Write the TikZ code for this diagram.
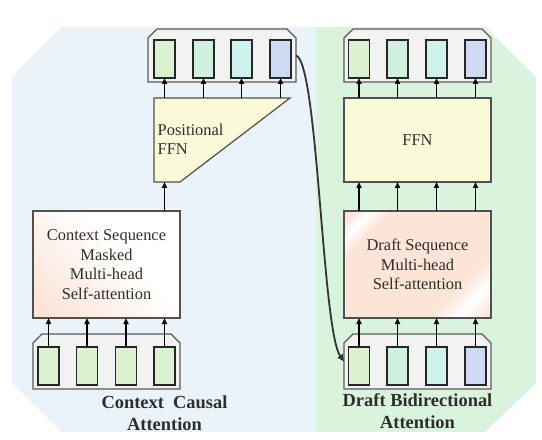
\documentclass[tikz,border=0pt]{standalone}
\usepackage{fontspec}
\setmainfont{Liberation Serif}
\usetikzlibrary{arrows.meta}
\definecolor{bgblue}{HTML}{EAF2FA}
\definecolor{bggreen}{HTML}{DAF3DC}
\definecolor{contfill}{HTML}{F2F2F2}
\definecolor{contline}{HTML}{595959}
\definecolor{boxline}{HTML}{505050}
\definecolor{tokline}{HTML}{262626}
\definecolor{tA}{HTML}{DAF2D0}
\definecolor{tB}{HTML}{D0F0E0}
\definecolor{tC}{HTML}{CFF2EE}
\definecolor{tD}{HTML}{CDDAF2}
\definecolor{ffnyel}{HTML}{FAF9D8}
\definecolor{salm}{HTML}{FCE4D6}
\definecolor{txt}{HTML}{2E2E2E}
\pgfdeclarehorizontalshading{shinegrad}{100bp}{color(0bp)=(salm); color(17bp)=(salm); color(22bp)=(white); color(28bp)=(salm); color(67bp)=(salm); color(76bp)=(white); color(84bp)=(salm); color(100bp)=(salm)}
\pgfdeclarehorizontalshading{ctxgrad}{100bp}{color(0bp)=(salm); color(20bp)=(salm); color(58bp)=(white); color(100bp)=(white)}
\tikzset{
  regtext/.style={font=\fontsize{16.5}{19.5}\selectfont, text=txt},
  captext/.style={font=\fontsize{18.5}{22}\selectfont\bfseries, text=txt, align=center},
  bigbox/.style={draw=boxline, line width=1.2bp, inner sep=0pt, outer sep=0pt,
    minimum width=147bp, regtext, align=center},
  hidden/.style={inner sep=0pt, outer sep=0pt},
  contshape/.style={draw=contline, fill=contfill, line width=1.2bp},
  tok/.style={draw=tokline, line width=1.6bp, minimum width=21bp, minimum height=38bp, inner sep=0pt, outer sep=0pt},
  arr/.style={draw=black, line width=1.6bp, -{Triangle[length=6bp,width=5bp]}},
  curvearr/.style={draw=black!80, line width=1.8bp, -{Triangle[length=7bp,width=6bp]}},
}
\newcommand\chamferbox[1]{%
  \draw[contshape] (#1.south west) -- ([yshift=-9bp]#1.north west) -- ([xshift=9bp]#1.north west)
    -- ([xshift=-9bp]#1.north east) -- ([yshift=-9bp]#1.north east) -- (#1.south east) -- cycle;}
\begin{document}
\begin{tikzpicture}[x=1bp,y=-1bp]
\useasboundingbox (0,0) rectangle (542,440);
% backgrounds
\fill[bgblue] (62,27) -- (316,27) -- (316,432) -- (62,432) -- (12,383) -- (12,77) -- cycle;
\fill[bggreen] (316,27) -- (485,27) -- (536,77) -- (536,383) -- (485,432) -- (316,432) -- cycle;

% ---------- left column ----------
\node[hidden, minimum width=148bp, minimum height=53bp] (cA) at (222,55.5) {};
\chamferbox{cA}
\node[tok, fill=tA] (a1) at (164.5,59) {};
\node[tok, fill=tB] (a2) at (203.5,59) {};
\node[tok, fill=tC] (a3) at (241.5,59) {};
\node[tok, fill=tD] (a4) at (280.5,59) {};

\node[hidden, minimum width=136bp, minimum height=84bp] (pffn) at (222,140) {};
\draw[draw=boxline, fill=ffnyel, line width=1.2bp] (pffn.north west) -- (pffn.north east)
  -- ([xshift=26bp]pffn.south west) -- (pffn.south west) -- cycle;
\node[regtext, anchor=west, align=left, inner sep=0pt] (pffntext) at (157.5,139.5) {Positional\\FFN};

\node[bigbox, minimum height=107bp, shading=ctxgrad, shading angle=45] (ctx) at (106.5,264.5)
  {Context Sequence\\Masked\\Multi-head\\Self-attention};

\node[hidden, minimum width=147bp, minimum height=55bp] (cB) at (106.5,361.5) {};
\chamferbox{cB}
\node[tok, fill=tA] (b1) at (48.5,366) {};
\node[tok, fill=tA] (b2) at (87,366) {};
\node[tok, fill=tA] (b3) at (126,366) {};
\node[tok, fill=tA] (b4) at (164.5,366) {};

\node[captext] (capL) at (164.5,413) {Context~~Causal\\Attention};

% ---------- right column ----------
\node[hidden, minimum width=147bp, minimum height=53bp] (cC) at (417.5,55.5) {};
\chamferbox{cC}
\node[tok, fill=tA] (c1) at (359,59) {};
\node[tok, fill=tB] (c2) at (397.5,59) {};
\node[tok, fill=tC] (c3) at (436.5,59) {};
\node[tok, fill=tD] (c4) at (475.5,59) {};

\node[bigbox, minimum height=84bp, fill=ffnyel] (ffn) at (417.5,140) {FFN};

\node[bigbox, minimum height=107bp, shading=shinegrad, shading angle=-45] (draft) at (417.5,264.5)
  {Draft Sequence\\Multi-head\\Self-attention};

\node[hidden, minimum width=147bp, minimum height=55bp] (cD) at (417.5,361.5) {};
\chamferbox{cD}
\node[tok, fill=tA] (d1) at (359,366) {};
\node[tok, fill=tB] (d2) at (397.5,366) {};
\node[tok, fill=tC] (d3) at (436.5,366) {};
\node[tok, fill=tD] (d4) at (475.5,366) {};

\node[captext] (capR) at (417.5,411) {Draft Bidirectional\\Attention};

% ---------- connectors ----------
\foreach \t in {a1,a2,a3,a4} \draw[arr] (pffn.north -| \t) -- (\t.south);
\draw[arr] (ctx.north -| a1) -- (pffn.south -| a1);
\foreach \t in {b1,b2,b3,b4} \draw[arr] (\t.north) -- (ctx.south -| \t);
\foreach \t in {c1,c2,c3,c4} \draw[arr] (ffn.north -| \t) -- (\t.south);
\foreach \t in {c1,c2,c3,c4} \draw[arr] (draft.north -| \t) -- (ffn.south -| \t);
\foreach \t in {d1,d2,d3,d4} \draw[arr] (\t.north) -- (draft.south -| \t);
\draw[curvearr] (cA.east) .. controls (318,62) and (322,330) .. (cD.west);
\end{tikzpicture}
\end{document}
